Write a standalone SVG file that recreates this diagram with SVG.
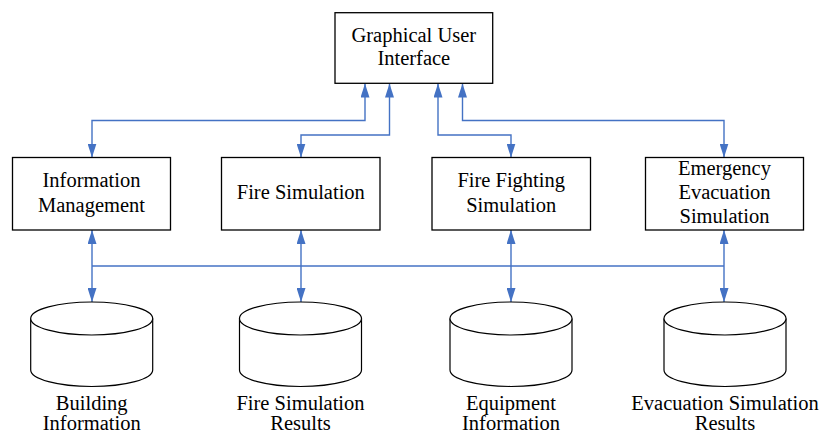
<svg xmlns="http://www.w3.org/2000/svg" width="821" height="434" viewBox="0 0 821 434">
<style>
.box{fill:#fff;stroke:#000;stroke-width:1.3}
.cyl{fill:#fff;stroke:#000;stroke-width:1.2}
.t{font-family:"Liberation Serif","Times New Roman",serif;font-size:20.5px;fill:#000;text-anchor:middle}
.c{fill:none;stroke:#4472C4;stroke-width:1.4}
.ca{fill:none;stroke:#4472C4;stroke-width:1.4;marker-start:url(#ah);marker-end:url(#ah)}
</style>
<defs>
<marker id="ah" markerUnits="userSpaceOnUse" markerWidth="14" markerHeight="9" refX="14" refY="4.5" orient="auto-start-reverse">
<path d="M0,0 L14,4.5 L0,9 z" fill="#4472C4"/>
</marker>
</defs>
<rect width="821" height="434" fill="#fff"/>
<g id="connectors">
<path class="ca" d="M92,157.5 V120.5 H365 V83.5"/>
<path class="ca" d="M301,157.5 V135 H389.5 V83.5"/>
<path class="ca" d="M511,157.5 V135 H438 V83.5"/>
<path class="ca" d="M724,157.5 V120.5 H462.5 V83.5"/>
<path class="ca" d="M92,230 V302"/>
<path class="ca" d="M301,230 V302"/>
<path class="ca" d="M511,230 V302"/>
<path class="ca" d="M724,230 V302"/>
<path class="c" d="M92,266 H724"/>
</g>
<g id="gui">
<rect class="box" x="335" y="12.7" width="157.7" height="70.6"/>
<text class="t" x="413.8" y="41.7">Graphical User</text>
<text class="t" x="413.8" y="65">Interface</text>
</g>
<g id="info-mgmt">
<rect class="box" x="12.5" y="157.5" width="158" height="72.5"/>
<text class="t" x="91.5" y="187.3">Information</text>
<text class="t" x="91.5" y="211.7">Management</text>
</g>
<g id="fire-sim">
<rect class="box" x="221.5" y="157.5" width="158.5" height="72.5"/>
<text class="t" x="300.8" y="199.3">Fire Simulation</text>
</g>
<g id="fire-fighting">
<rect class="box" x="432" y="157.5" width="158.5" height="72.5"/>
<text class="t" x="511.2" y="187.3">Fire Fighting</text>
<text class="t" x="511.2" y="211.7">Simulation</text>
</g>
<g id="evacuation">
<rect class="box" x="645.5" y="157.5" width="158" height="72.5"/>
<text class="t" x="724.5" y="175">Emergency</text>
<text class="t" x="724.5" y="199.3">Evacuation</text>
<text class="t" x="724.5" y="223.3">Simulation</text>
</g>
<g id="db-building">
<path class="cyl" d="M30.7,318.5 V370 A61,16.5 0 0 0 152.7,370 V318.5"/>
<ellipse class="cyl" cx="91.7" cy="318.5" rx="61" ry="16.5"/>
<text class="t" x="91.7" y="409.5">Building</text>
<text class="t" x="91.7" y="430">Information</text>
</g>
<g id="db-fire-results">
<path class="cyl" d="M239.5,318.5 V370 A61,16.5 0 0 0 361.5,370 V318.5"/>
<ellipse class="cyl" cx="300.5" cy="318.5" rx="61" ry="16.5"/>
<text class="t" x="300.5" y="409.5">Fire Simulation</text>
<text class="t" x="300.5" y="430">Results</text>
</g>
<g id="db-equipment">
<path class="cyl" d="M450,318.5 V370 A61,16.5 0 0 0 572,370 V318.5"/>
<ellipse class="cyl" cx="511" cy="318.5" rx="61" ry="16.5"/>
<text class="t" x="511" y="409.5">Equipment</text>
<text class="t" x="511" y="430">Information</text>
</g>
<g id="db-evac-results">
<path class="cyl" d="M664,318.5 V370 A61,16.5 0 0 0 786,370 V318.5"/>
<ellipse class="cyl" cx="725" cy="318.5" rx="61" ry="16.5"/>
<text class="t" x="725" y="409.5">Evacuation Simulation</text>
<text class="t" x="725" y="430">Results</text>
</g>
</svg>
